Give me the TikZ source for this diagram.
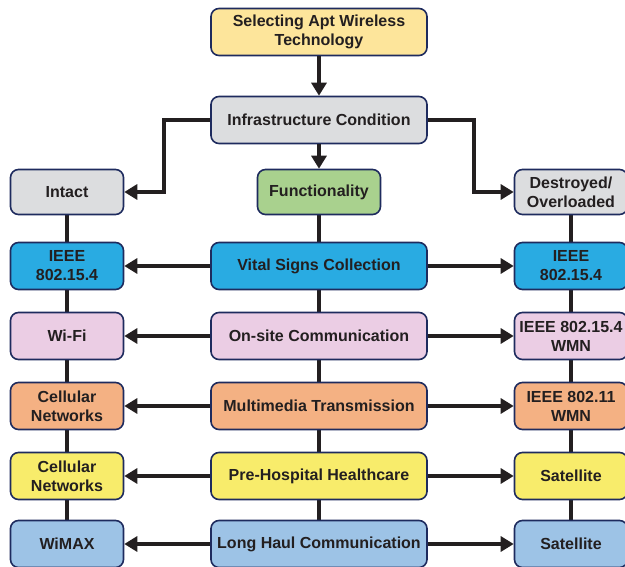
\documentclass[tikz,border=0pt]{standalone}
\usepackage{fontspec}
\setmainfont{Liberation Sans}
\usetikzlibrary{arrows.meta,backgrounds}

\definecolor{edge}{HTML}{1E2B5E}
\definecolor{ink}{HTML}{231F20}
\definecolor{topyellow}{HTML}{FDE59B}
\definecolor{condgray}{HTML}{DCDDDF}
\definecolor{funcgreen}{HTML}{A9D18E}
\definecolor{vitalblue}{HTML}{29ABE2}
\definecolor{sitepink}{HTML}{EBCDE4}
\definecolor{mediaorange}{HTML}{F4B183}
\definecolor{hospyellow}{HTML}{F8EC6B}
\definecolor{haulblue}{HTML}{9DC3E6}

\begin{document}
\begin{tikzpicture}[x=1pt, y=1pt, node distance=70pt,
    font=\fontsize{16}{19}\selectfont\bfseries, text=ink]
    \tikzset{
        box/.style={rectangle, rounded corners=8pt,
        minimum width=216pt, minimum height=47pt,
        inner sep=2pt, align=center,
        draw=edge, line width=1.6pt},
        side/.style={box, minimum width=113pt},
        arrow/.style={ink, line width=3.8pt, -{Triangle[length=13pt,width=15pt]}},
        link/.style={ink, line width=3.8pt}
    }
    \useasboundingbox (-319,32) rectangle (306,-535);

    \node (sel) [box, fill=topyellow] {Selecting Apt Wireless\\Technology};
    \node (infra) [box, fill=condgray, below of=sel, node distance=88pt] {Infrastructure Condition};
    \node (func) [box, fill=funcgreen, minimum width=123pt, minimum height=45pt,
        below of=infra, node distance=72pt] {Functionality};
    \node (intact) [side, fill=condgray, minimum height=45pt, left of=func, node distance=252pt] {Intact};
    \node (destroyed) [side, fill=condgray, minimum height=45pt, right of=func, node distance=252pt] {Destroyed/\\Overloaded};

    % center column
    \node (vital) [box, fill=vitalblue, below of=func, node distance=74pt] {Vital Signs Collection};
    \node (onsite) [box, fill=sitepink, below of=vital] {On-site Communication};
    \node (media) [box, fill=mediaorange, below of=onsite] {Multimedia Transmission};
    \node (prehosp) [box, fill=hospyellow, below of=media] {Pre-Hospital Healthcare};
    \node (haul) [box, fill=haulblue, below of=prehosp, node distance=68pt] {Long Haul Communication};

    % intact side
    \node (ieeeA) [side, fill=vitalblue, left of=vital, node distance=252pt] {IEEE\\802.15.4};
    \node (wifi) [side, fill=sitepink, left of=onsite, node distance=252pt] {Wi-Fi};
    \node (cellA) [side, fill=mediaorange, left of=media, node distance=252pt] {Cellular\\Networks};
    \node (cellB) [side, fill=hospyellow, left of=prehosp, node distance=252pt] {Cellular\\Networks};
    \node (wimax) [side, fill=haulblue, left of=haul, node distance=252pt] {WiMAX};

    % destroyed side
    \node (ieeeB) [side, fill=vitalblue, right of=vital, node distance=252pt] {IEEE\\802.15.4};
    \node (wmnA) [side, fill=sitepink, right of=onsite, node distance=252pt] {IEEE 802.15.4\\WMN};
    \node (wmnB) [side, fill=mediaorange, right of=media, node distance=252pt] {IEEE 802.11\\WMN};
    \node (satA) [side, fill=hospyellow, right of=prehosp, node distance=252pt] {Satellite};
    \node (satB) [side, fill=haulblue, right of=haul, node distance=252pt] {Satellite};

    \begin{scope}[on background layer]
        \draw [link] (intact) -- (wimax);
        \draw [link] (func) -- (haul);
        \draw [link] (destroyed) -- (satB);
    \end{scope}

    \draw [arrow] (sel) -- (infra);
    \draw [arrow] (infra) -- (func);
    \draw [arrow] (infra.west) -- ++(-46,0) |- (intact.east);
    \draw [arrow] (infra.east) -- ++(46,0) |- (destroyed.west);

    \draw [arrow] (vital) -- (ieeeA);
    \draw [arrow] (vital) -- (ieeeB);
    \draw [arrow] (onsite) -- (wifi);
    \draw [arrow] (onsite) -- (wmnA);
    \draw [arrow] (media) -- (cellA);
    \draw [arrow] (media) -- (wmnB);
    \draw [arrow] (prehosp) -- (cellB);
    \draw [arrow] (prehosp) -- (satA);
    \draw [arrow] (haul) -- (wimax);
    \draw [arrow] (haul) -- (satB);
\end{tikzpicture}
\end{document}
